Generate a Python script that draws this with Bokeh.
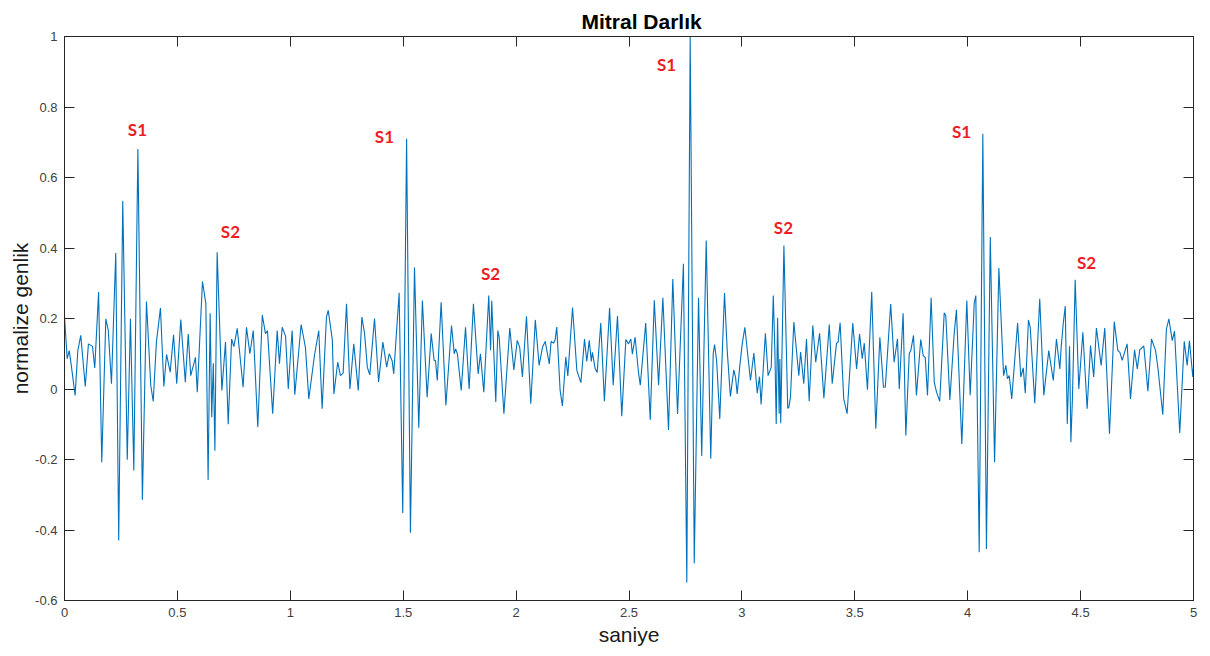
from bokeh.plotting import figure
from bokeh.models import (ColumnDataSource, LinearAxis, FixedTicker,
                          CustomJSTickFormatter, Range1d, LabelSet)
from bokeh.core.properties import value
from bokeh.embed import file_html
from bokeh.resources import INLINE

# ---- data (time in s, normalized amplitude) ----
t = [0.000, 0.012, 0.021, 0.030, 0.047, 0.059, 0.072, 0.092, 0.106, 0.124,
     0.134, 0.151, 0.165, 0.183, 0.194, 0.208, 0.227, 0.240, 0.258, 0.278,
     0.292, 0.307, 0.325, 0.345, 0.363, 0.382, 0.393, 0.407, 0.425, 0.440,
     0.452, 0.468, 0.483, 0.497, 0.515, 0.535, 0.548, 0.559, 0.580, 0.588,
     0.611, 0.626, 0.636, 0.645, 0.652, 0.659, 0.666, 0.676, 0.697, 0.713,
     0.725, 0.740, 0.750, 0.765, 0.791, 0.806, 0.821, 0.836, 0.856, 0.876,
     0.890, 0.899, 0.922, 0.942, 0.952, 0.964, 0.979, 0.991, 1.008, 1.020,
     1.048, 1.067, 1.082, 1.107, 1.126, 1.141, 1.160, 1.168, 1.186, 1.193,
     1.210, 1.222, 1.234, 1.249, 1.264, 1.281, 1.301, 1.317, 1.329, 1.341,
     1.352, 1.373, 1.391, 1.410, 1.427, 1.438, 1.451, 1.458, 1.482, 1.498,
     1.515, 1.532, 1.550, 1.569, 1.585, 1.606, 1.624, 1.637, 1.643, 1.651,
     1.668, 1.689, 1.714, 1.726, 1.732, 1.740, 1.757, 1.776, 1.792, 1.811,
     1.832, 1.842, 1.857, 1.879, 1.887, 1.892, 1.910, 1.919, 1.925, 1.946,
     1.972, 1.990, 2.005, 2.016, 2.028, 2.046, 2.065, 2.085, 2.102, 2.117,
     2.129, 2.147, 2.155, 2.166, 2.173, 2.180, 2.195, 2.205, 2.220, 2.229,
     2.250, 2.269, 2.287, 2.303, 2.313, 2.324, 2.333, 2.338, 2.350, 2.359,
     2.375, 2.391, 2.414, 2.430, 2.449, 2.468, 2.486, 2.498, 2.508, 2.515,
     2.527, 2.542, 2.550, 2.574, 2.594, 2.612, 2.631, 2.650, 2.675, 2.694,
     2.715, 2.741, 2.756, 2.771, 2.789, 2.808, 2.822, 2.842, 2.862, 2.873,
     2.879, 2.888, 2.902, 2.923, 2.935, 2.949, 2.964, 2.972, 2.979, 2.991,
     3.001, 3.013, 3.038, 3.053, 3.068, 3.078, 3.085, 3.104, 3.116, 3.130,
     3.139, 3.146, 3.152, 3.158, 3.165, 3.168, 3.172, 3.186, 3.203, 3.208,
     3.215, 3.230, 3.252, 3.260, 3.274, 3.286, 3.298, 3.314, 3.327, 3.344,
     3.363, 3.387, 3.400, 3.419, 3.426, 3.435, 3.451, 3.466, 3.491, 3.508,
     3.521, 3.533, 3.542, 3.556, 3.575, 3.593, 3.611, 3.627, 3.635, 3.659,
     3.674, 3.689, 3.697, 3.714, 3.726, 3.741, 3.748, 3.760, 3.773, 3.792,
     3.803, 3.812, 3.822, 3.838, 3.852, 3.862, 3.876, 3.896, 3.903, 3.921,
     3.940, 3.950, 3.974, 3.996, 4.011, 4.029, 4.036, 4.051, 4.067, 4.083,
     4.100, 4.119, 4.138, 4.159, 4.169, 4.176, 4.184, 4.195, 4.221, 4.235,
     4.246, 4.255, 4.269, 4.277, 4.297, 4.319, 4.337, 4.359, 4.379, 4.393,
     4.408, 4.414, 4.423, 4.432, 4.441, 4.451, 4.457, 4.464, 4.476, 4.492,
     4.510, 4.529, 4.544, 4.558, 4.570, 4.591, 4.607, 4.628, 4.649, 4.665,
     4.674, 4.684, 4.706, 4.721, 4.739, 4.751, 4.762, 4.780, 4.798, 4.814,
     4.832, 4.842, 4.864, 4.880, 4.891, 4.906, 4.916, 4.939, 4.959, 4.972,
     4.982, 4.997, 5.000]

amp = [0.205, 0.086, 0.109, 0.067, -0.018, 0.109, 0.152, 0.007, 0.128, 0.121,
       0.060, 0.275, -0.208, 0.199, 0.166, 0.015, 0.386, -0.430, 0.533, -0.201,
       0.199, -0.231, 0.681, -0.314, 0.248, 0.010, -0.035, 0.133, 0.230, 0.007,
       0.098, 0.048, 0.154, 0.015, 0.197, 0.019, 0.156, 0.038, 0.090, -0.009,
       0.305, 0.242, -0.258, 0.215, -0.080, 0.073, -0.175, 0.388, -0.004, 0.133,
       -0.100, 0.142, 0.120, 0.172, 0.005, 0.175, 0.100, 0.166, -0.108, 0.210,
       0.157, 0.165, -0.070, 0.166, 0.072, 0.175, 0.150, 0.000, 0.166, -0.016,
       0.183, 0.118, -0.028, 0.095, 0.166, -0.056, 0.204, 0.223, 0.140, -0.014,
       0.076, 0.038, 0.045, 0.242, 0.000, 0.128, -0.004, 0.204, 0.157, 0.062,
       0.040, 0.200, 0.020, 0.133, 0.062, 0.100, 0.080, 0.043, 0.273, -0.352,
       0.710, -0.408, 0.345, -0.110, 0.251, -0.023, 0.157, 0.081, 0.081, 0.024,
       0.246, -0.047, 0.180, 0.100, 0.114, 0.100, -0.004, 0.175, 0.000, 0.242,
       0.043, 0.100, -0.009, 0.265, 0.110, 0.250, -0.037, 0.166, 0.147, -0.070,
       0.173, 0.054, 0.138, 0.118, 0.034, 0.206, -0.042, 0.196, 0.067, 0.119,
       0.135, 0.071, 0.135, 0.130, 0.140, 0.176, -0.004, -0.048, 0.091, 0.037,
       0.231, 0.053, 0.018, 0.142, 0.078, 0.138, 0.078, 0.104, 0.058, 0.047,
       0.187, -0.035, 0.230, 0.011, 0.207, -0.077, 0.140, 0.128, 0.142, 0.099,
       0.147, 0.047, 0.011, 0.187, -0.087, 0.252, 0.011, 0.259, -0.116, 0.312,
       -0.071, 0.355, -0.549, 1.000, -0.494, 0.259, -0.190, 0.421, -0.198, 0.100,
       0.126, 0.081, -0.085, 0.272, 0.109, -0.021, 0.054, 0.033, -0.014, 0.067,
       0.126, 0.175, 0.024, 0.102, -0.012, 0.035, -0.044, 0.158, 0.038, 0.062,
       0.265, 0.109, -0.099, 0.202, -0.070, 0.085, -0.097, 0.407, -0.055, -0.052,
       -0.023, 0.190, 0.038, 0.105, 0.015, 0.142, -0.035, 0.180, 0.076, 0.158,
       -0.026, 0.183, 0.015, 0.130, 0.133, 0.188, -0.028, -0.070, 0.187, 0.057,
       0.156, 0.086, 0.130, -0.002, 0.275, -0.113, 0.147, 0.005, 0.005, 0.241,
       0.076, 0.142, 0.000, 0.215, -0.132, 0.100, 0.109, 0.152, -0.018, 0.140,
       0.095, 0.089, -0.018, 0.259, 0.019, -0.009, -0.035, 0.216, 0.208, -0.031,
       0.156, 0.225, -0.156, 0.251, -0.018, 0.244, 0.265, -0.463, 0.724, -0.454,
       0.431, -0.208, 0.343, 0.038, 0.067, 0.029, 0.038, -0.028, 0.187, 0.034,
       0.060, -0.012, 0.196, 0.175, -0.040, 0.256, -0.018, 0.109, 0.024, 0.142,
       0.057, 0.118, 0.185, 0.235, -0.099, 0.121, -0.151, -0.023, 0.310, 0.000,
       0.161, -0.056, 0.123, 0.034, 0.173, 0.067, 0.173, -0.127, 0.191, 0.109,
       0.104, 0.081, 0.128, -0.028, 0.111, 0.057, 0.111, 0.122, -0.006, 0.142,
       0.109, 0.062, -0.073, 0.170, 0.199, 0.137, 0.164, -0.125, 0.135, 0.067,
       0.137, 0.034, 0.060]

# annotation texts and their anchor points (data units)
label_text = ["S1", "S2", "S1", "S2", "S1", "S2", "S1", "S2"]
label_t = [0.323, 0.735, 1.417, 1.887, 2.666, 3.184, 3.973, 4.526]
label_v = [0.736, 0.447, 0.716, 0.328, 0.921, 0.458, 0.730, 0.359]

x_ticks = [0, 0.5, 1, 1.5, 2, 2.5, 3, 3.5, 4, 4.5, 5]
y_ticks = [-0.6, -0.4, -0.2, 0, 0.2, 0.4, 0.6, 0.8, 1]

AX = "#262626"
FONT = "Liberation Sans"

p = figure(frame_width=1129, frame_height=564,
           x_range=Range1d(0, 5), y_range=Range1d(-0.6, 1),
           output_backend="svg", toolbar_location=None,
           min_border_left=64, min_border_right=9,
           min_border_top=36, min_border_bottom=50,
           title="Mitral Darlık",
           background_fill_color="white", border_fill_color="white")

p.title.text_font = FONT
p.title.text_font_style = "bold"
p.title.text_font_size = "21px"
p.title.text_color = "#000000"
p.title.align = "left"
p.title.offset = 517
p.title.standoff = 7

p.xgrid.visible = False
p.ygrid.visible = False
p.outline_line_color = AX

fmt = CustomJSTickFormatter(code="return Number(tick.toFixed(2)).toString();")
blank = CustomJSTickFormatter(code="return '';")

def style_axis(ax, ticks, show_labels=True):
    ax.ticker = FixedTicker(ticks=ticks)
    ax.axis_line_color = AX
    ax.major_tick_line_color = AX
    ax.major_tick_in = 10
    ax.major_tick_out = 0
    ax.minor_tick_line_color = None
    if show_labels:
        ax.formatter = fmt
        ax.major_label_text_font = FONT
        ax.major_label_text_font_size = "13px"
        ax.major_label_text_color = "#404040"
        ax.major_label_standoff = 7
    else:
        ax.formatter = blank
        ax.major_label_standoff = 0

style_axis(p.xaxis[0], x_ticks)
style_axis(p.yaxis[0], y_ticks)
p.xaxis[0].axis_label = "saniye"
p.yaxis[0].axis_label = "normalize genlik"
for ax in (p.xaxis[0], p.yaxis[0]):
    ax.axis_label_text_font = FONT
    ax.axis_label_text_font_style = "normal"
    ax.axis_label_text_color = "#1a1a1a"
    ax.axis_label_text_font_size = "21px"
p.xaxis[0].axis_label_standoff = 3
p.yaxis[0].axis_label_standoff = 0

top = LinearAxis()
style_axis(top, x_ticks, show_labels=False)
p.add_layout(top, "above")
right = LinearAxis()
style_axis(right, y_ticks, show_labels=False)
p.add_layout(right, "right")

src = ColumnDataSource(data=dict(t=t, amp=amp))
p.line("t", "amp", source=src, line_color="#0072BD", line_width=1.1)

lab = ColumnDataSource(data=dict(x=label_t, y=label_v, text=label_text))
p.add_layout(LabelSet(x="x", y="y", text="text", source=lab,
                      text_font=value("Lato"), text_font_style="bold",
                      text_font_size="17px", text_color="#EE1C25",
                      text_align="center", text_baseline="middle"))

open("out.html", "w").write(file_html(p, INLINE))
